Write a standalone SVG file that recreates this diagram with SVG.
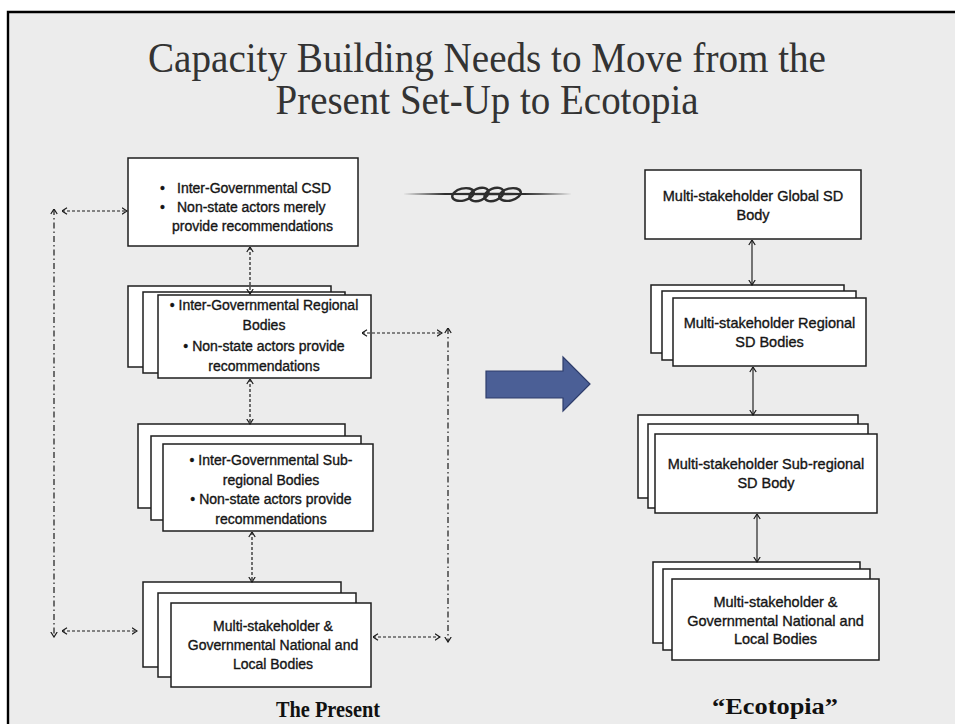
<svg xmlns="http://www.w3.org/2000/svg" width="955" height="724" viewBox="0 0 955 724">
<defs>
<style>
.box{fill:#ffffff;stroke:#1e1e1e;stroke-width:1.5}
.t{font-family:"Liberation Sans",Arial,sans-serif;font-size:14px;fill:#151515;stroke:#151515;stroke-width:0.35}
.tr{font-family:"Liberation Sans",Arial,sans-serif;font-size:14.5px;fill:#151515;stroke:#151515;stroke-width:0.35}
.title{font-family:"Liberation Serif","Times New Roman",serif;font-size:42px;fill:#333333}
.lbl{font-family:"Liberation Serif","Times New Roman",serif;font-size:24px;font-weight:bold;fill:#111111}
.dash{fill:none;stroke:#1a1a1a;stroke-width:1.2;stroke-dasharray:3 2;marker-start:url(#ah);marker-end:url(#ah)}
.dashdot{fill:none;stroke:#1a1a1a;stroke-width:1.2;stroke-dasharray:6 3 1.5 3;marker-start:url(#ah);marker-end:url(#ah)}
.solid{fill:none;stroke:#333333;stroke-width:1.3;marker-start:url(#ah);marker-end:url(#ah)}
</style>
<marker id="ah" viewBox="0 0 6 8" refX="5.5" refY="4" markerWidth="6" markerHeight="8" markerUnits="userSpaceOnUse" orient="auto-start-reverse">
<path d="M0.5,0.8 L5.5,4 L0.5,7.2" fill="none" stroke="#1a1a1a" stroke-width="1.2"/>
</marker>
</defs>

<rect x="0" y="0" width="955" height="724" fill="#ffffff"/>
<rect x="8" y="12" width="947" height="712" fill="#ececec"/>
<path d="M8,724 L8,12 L955,12" fill="none" stroke="#000000" stroke-width="2.4"/>

<g id="title">
<text class="title" x="487" y="72" text-anchor="middle" textLength="678" lengthAdjust="spacingAndGlyphs">Capacity Building Needs to Move from the</text>
<text class="title" x="487" y="114" text-anchor="middle" textLength="423" lengthAdjust="spacingAndGlyphs">Present Set-Up to Ecotopia</text>
</g>

<g id="ornament">
<path d="M403,194 Q487,191.4 572,194 Q487,196.6 403,194 Z" fill="#2e2e2e"/>
<g fill="none" stroke="#2e2e2e" stroke-width="2.4">
<ellipse cx="463" cy="194.5" rx="11" ry="6" transform="rotate(-14 463 194.5)"/>
<ellipse cx="479" cy="194.5" rx="10" ry="6" transform="rotate(-22 479 194.5)"/>
<ellipse cx="494" cy="194.5" rx="10" ry="6" transform="rotate(-22 494 194.5)"/>
<ellipse cx="510" cy="194.5" rx="11" ry="6" transform="rotate(-14 510 194.5)"/>
</g>
</g>

<g id="big-arrow">
<path d="M486,371 L563,371 L563,357 L590,384 L563,411 L563,398 L486,398 Z" fill="#4b5f96" stroke="#2e3d6b" stroke-width="1.2"/>
</g>

<g id="present-csd">
<rect class="box" x="128" y="158" width="230" height="88"/>
<text class="t" x="160" y="193">•</text>
<text class="t" x="177" y="193">Inter-Governmental CSD</text>
<text class="t" x="160" y="212">•</text>
<text class="t" x="177" y="212">Non-state actors merely</text>
<text class="t" x="172" y="231">provide recommendations</text>
</g>

<g id="present-regional">
<rect class="box" x="128" y="286" width="203" height="81"/>
<rect class="box" x="143" y="292" width="202" height="81"/>
<rect class="box" x="158" y="295" width="213" height="83"/>
<text class="t" x="264" y="310" text-anchor="middle">• Inter-Governmental Regional</text>
<text class="t" x="264" y="330" text-anchor="middle">Bodies</text>
<text class="t" x="264" y="351" text-anchor="middle">• Non-state actors provide</text>
<text class="t" x="264" y="371" text-anchor="middle">recommendations</text>
</g>

<g id="present-subregional">
<rect class="box" x="138" y="424" width="207" height="84"/>
<rect class="box" x="151" y="436" width="210" height="84"/>
<rect class="box" x="163" y="444" width="210" height="87"/>
<text class="t" x="271" y="465" text-anchor="middle">• Inter-Governmental Sub-</text>
<text class="t" x="271" y="484.5" text-anchor="middle">regional Bodies</text>
<text class="t" x="271" y="504" text-anchor="middle">• Non-state actors provide</text>
<text class="t" x="271" y="523.5" text-anchor="middle">recommendations</text>
</g>

<g id="present-national">
<rect class="box" x="143" y="582" width="198" height="85"/>
<rect class="box" x="158" y="593" width="198" height="84"/>
<rect class="box" x="171" y="603" width="200" height="84"/>
<text class="t" x="273" y="631" text-anchor="middle">Multi-stakeholder &amp;</text>
<text class="t" x="273" y="650" text-anchor="middle">Governmental National and</text>
<text class="t" x="273" y="669" text-anchor="middle">Local Bodies</text>
</g>

<g id="eco-global">
<rect class="box" x="645" y="170" width="216" height="69"/>
<text class="tr" x="753" y="201" text-anchor="middle">Multi-stakeholder Global SD</text>
<text class="tr" x="753" y="220" text-anchor="middle">Body</text>
</g>

<g id="eco-regional">
<rect class="box" x="651" y="285" width="193" height="68"/>
<rect class="box" x="662" y="291" width="194" height="69"/>
<rect class="box" x="673" y="298" width="193" height="68"/>
<text class="tr" x="769.5" y="328" text-anchor="middle">Multi-stakeholder Regional</text>
<text class="tr" x="769.5" y="347" text-anchor="middle">SD Bodies</text>
</g>

<g id="eco-subregional">
<rect class="box" x="638" y="415" width="220" height="83"/>
<rect class="box" x="648" y="424" width="220" height="84"/>
<rect class="box" x="655" y="434" width="222" height="79"/>
<text class="tr" x="766" y="469" text-anchor="middle">Multi-stakeholder Sub-regional</text>
<text class="tr" x="766" y="488" text-anchor="middle">SD Body</text>
</g>

<g id="eco-national">
<rect class="box" x="653" y="562" width="207" height="81"/>
<rect class="box" x="663" y="569" width="207" height="81"/>
<rect class="box" x="672" y="579" width="207" height="81"/>
<text class="tr" x="775.5" y="607" text-anchor="middle">Multi-stakeholder &amp;</text>
<text class="tr" x="775.5" y="626" text-anchor="middle">Governmental National and</text>
<text class="tr" x="775.5" y="644" text-anchor="middle">Local Bodies</text>
</g>

<g id="connectors">
<line class="dash" x1="250" y1="247" x2="250" y2="294"/>
<line class="dash" x1="250" y1="379" x2="250" y2="424"/>
<line class="dash" x1="252" y1="532" x2="252" y2="582"/>
<line class="dash" x1="62" y1="211" x2="127" y2="211"/>
<line class="dashdot" x1="54" y1="209" x2="54" y2="637"/>
<line class="dash" x1="62" y1="631" x2="137" y2="631"/>
<line class="dash" x1="362" y1="333" x2="442" y2="333"/>
<line class="dashdot" x1="448" y1="328" x2="448" y2="642"/>
<line class="dash" x1="373" y1="637" x2="440" y2="637"/>
<line class="solid" x1="752" y1="240" x2="752" y2="285"/>
<line class="solid" x1="753" y1="367" x2="753" y2="415"/>
<line class="solid" x1="757" y1="514" x2="757" y2="562"/>
</g>

<g id="labels">
<text class="lbl" x="328" y="717" text-anchor="middle" textLength="104" lengthAdjust="spacingAndGlyphs">The Present</text>
<text class="lbl" x="775" y="714" text-anchor="middle" font-size="26" textLength="126" lengthAdjust="spacingAndGlyphs">“Ecotopia”</text>
</g>
</svg>
